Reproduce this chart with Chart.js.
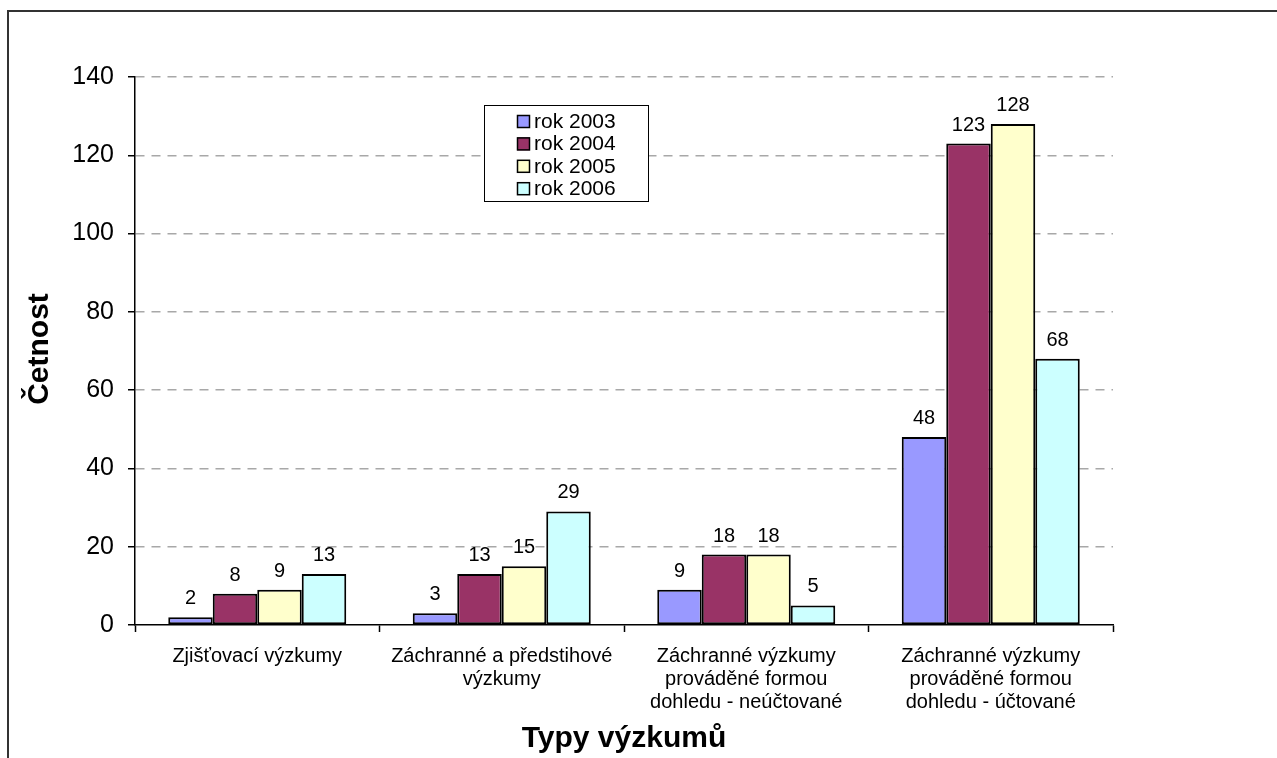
<!DOCTYPE html>
<html>
<head>
<meta charset="utf-8">
<script src="https://cdn.jsdelivr.net/npm/chart.js@4.4.1/dist/chart.umd.min.js"></script>
<style>
  html, body { margin: 0; padding: 0; background: #fff; overflow: hidden; }
  #frame { position: absolute; left: 7px; top: 10px; width: 1400px; height: 900px; border: 2px solid #333; }
  #wrap { position: absolute; left: 0; top: 0; width: 1277px; height: 758px; }
</style>
</head>
<body>
<div id="frame"></div>
<div id="wrap"><canvas id="chart"></canvas></div>
<script>
// Data
const CATEGORIES = [
    ['Zjišťovací výzkumy'],
    ['Záchranné a předstihové', 'výzkumy'],
    ['Záchranné výzkumy', 'prováděné formou', 'dohledu - neúčtované'],
    ['Záchranné výzkumy', 'prováděné formou', 'dohledu - účtované']
];
const SERIES_LABELS = ['rok 2003', 'rok 2004', 'rok 2005', 'rok 2006'];
const ROK_2003 = [2, 3, 9, 48];
const ROK_2004 = [8, 13, 18, 123];
const ROK_2005 = [9, 15, 18, 128];
const ROK_2006 = [13, 29, 5, 68];
const Y_TICKS = [0, 20, 40, 60, 80, 100, 120, 140];
const Y_TITLE = 'Četnost';
const X_TITLE = 'Typy výzkumů';

const FONT = '"Liberation Sans", Arial, sans-serif';
const COLORS = ['#9999FF', '#993366', '#FFFFCC', '#CCFFFF'];

// value labels above each bar
const barValueLabels = {
    id: 'barValueLabels',
    afterDatasetsDraw(chart) {
        const ctx = chart.ctx;
        ctx.save();
        ctx.font = '20px ' + FONT;
        ctx.fillStyle = '#000';
        ctx.textAlign = 'center';
        ctx.textBaseline = 'alphabetic';
        chart.data.datasets.forEach((ds, i) => {
            chart.getDatasetMeta(i).data.forEach((bar, j) => {
                ctx.fillText(String(ds.data[j]), bar.x, bar.y - 13);
            });
        });
        ctx.restore();
    }
};

// boxed legend inside the plot, like the Excel original
const boxLegend = {
    id: 'boxLegend',
    afterDraw(chart) {
        const ctx = chart.ctx;
        const x = 484, y = 105, w = 164, h = 96;
        ctx.save();
        ctx.fillStyle = '#fff';
        ctx.fillRect(x, y, w, h);
        ctx.strokeStyle = '#000';
        ctx.lineWidth = 1;
        ctx.strokeRect(x + 0.5, y + 0.5, w, h);
        ctx.font = '21px ' + FONT;
        ctx.textAlign = 'left';
        ctx.textBaseline = 'middle';
        chart.data.datasets.forEach((ds, i) => {
            const cy = y + 16 + i * 22.4;
            ctx.fillStyle = ds.backgroundColor;
            ctx.fillRect(517, cy - 6, 13, 13);
            ctx.lineWidth = 1.5;
            ctx.strokeRect(517.5, cy - 5.5, 12, 12);
            ctx.fillStyle = '#000';
            ctx.fillText(ds.label, 534, cy + 1);
        });
        ctx.restore();
    }
};

// axis titles
const axisTitles = {
    id: 'axisTitles',
    afterDraw(chart) {
        const ctx = chart.ctx;
        const area = chart.chartArea;
        ctx.save();
        ctx.font = 'bold 30px ' + FONT;
        ctx.fillStyle = '#000';
        ctx.textAlign = 'center';
        ctx.textBaseline = 'alphabetic';
        ctx.fillText(X_TITLE, (area.left + area.right) / 2, 747);
        ctx.translate(48, 349);
        ctx.rotate(-Math.PI / 2);
        ctx.fillText(Y_TITLE, 0, 0);
        ctx.restore();
    }
};

const datasets = [ROK_2003, ROK_2004, ROK_2005, ROK_2006].map((values, i) => ({
    label: SERIES_LABELS[i],
    data: values,
    backgroundColor: COLORS[i],
    borderColor: '#000',
    borderWidth: 2,
    borderSkipped: false,
    categoryPercentage: 0.728,
    barPercentage: 1
}));

new Chart(document.getElementById('chart'), {
    type: 'bar',
    data: { labels: CATEGORIES, datasets: datasets },
    options: {
        responsive: true,
        maintainAspectRatio: false,
        animation: false,
        layout: { padding: { left: 0, right: 164, top: 77, bottom: 0 } },
        plugins: {
            legend: { display: false },
            tooltip: { enabled: false },
            title: { display: false }
        },
        scales: {
            x: {
                afterFit: (scale) => { scale.height = 133; },
                grid: {
                    display: true,
                    drawOnChartArea: false,
                    drawTicks: true,
                    offset: true,
                    tickLength: 7,
                    tickColor: '#000',
                    tickWidth: 1.5
                },
                border: { display: true, color: '#000', width: 1.5 },
                ticks: {
                    autoSkip: false,
                    maxRotation: 0,
                    minRotation: 0,
                    padding: 13,
                    color: '#000',
                    font: { family: FONT, size: 20, lineHeight: 1.15 }
                }
            },
            y: {
                min: 0,
                max: 140,
                afterFit: (scale) => { scale.width = 135; },
                afterBuildTicks: (scale) => { scale.ticks = Y_TICKS.map(v => ({ value: v })); },
                grid: {
                    color: (ctx) => (ctx.tick && ctx.tick.value === 0 ? 'rgba(0,0,0,0)' : '#A8A8A8'),
                    lineWidth: 1.5,
                    tickLength: 7,
                    tickColor: '#000',
                    tickWidth: 1.5,
                    tickBorderDash: []
                },
                border: { display: true, color: '#000', width: 1.5, dash: [9, 7] },
                ticks: {
                    padding: 14,
                    color: '#000',
                    font: { family: FONT, size: 25 }
                }
            }
        }
    },
    plugins: [barValueLabels, boxLegend, axisTitles]
});
</script>
</body>
</html>
